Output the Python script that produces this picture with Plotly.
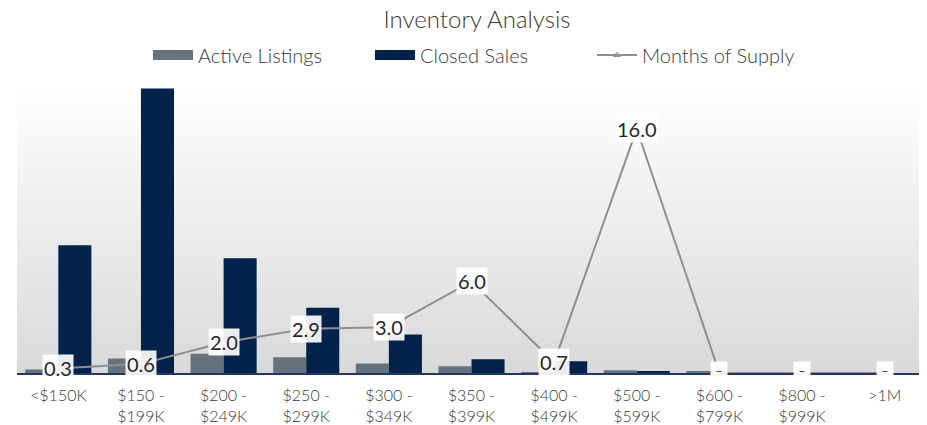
import plotly.graph_objects as go

categories = ["<$150K", "$150 -<br>$199K", "$200 -<br>$249K", "$250 -<br>$299K", "$300 -<br>$349K",
              "$350 -<br>$399K", "$400 -<br>$499K", "$500 -<br>$599K", "$600 -<br>$799K",
              "$800 -<br>$999K", ">1M"]
active_listings = [5, 21, 28, 23, 14, 10, 1, 4, 2, 1, 0]
closed_sales = [186, 414, 167, 95, 56, 20, 17, 3, 0, 0, 0]
months_supply = [0.3, 0.6, 2.0, 2.9, 3.0, 6.0, 0.7, 16.0, 0, 0, 0]

FONT = "Lato"
TXT = "#3a3a3a"
C_ACTIVE = "#66727c"
C_CLOSED = "#022249"
C_LINE = "#8f8f8f"

fig = go.Figure()
fig.add_trace(go.Bar(x=categories, y=active_listings, name="Active Listings", showlegend=False,
                     marker=dict(color=C_ACTIVE, line=dict(width=0))))
fig.add_trace(go.Bar(x=categories, y=closed_sales, name="Closed Sales", showlegend=False,
                     marker=dict(color=C_CLOSED, line=dict(width=0))))
fig.add_trace(go.Scatter(x=categories, y=months_supply, name="Months of Supply", yaxis="y2",
                         mode="lines+markers", showlegend=False,
                         line=dict(color=C_LINE, width=2),
                         marker=dict(symbol="triangle-up-open", size=6, color=C_LINE)))

# legend entries (rectangular swatches like the reference)
fig.add_trace(go.Scatter(x=[None], y=[None], name="Active Listings", mode="lines",
                         line=dict(color=C_ACTIVE, width=10)))
fig.add_trace(go.Scatter(x=[None], y=[None], name="Closed Sales", mode="lines",
                         line=dict(color=C_CLOSED, width=10)))
fig.add_trace(go.Scatter(x=[None], y=[None], name="Months of Supply", mode="lines+markers",
                         line=dict(color=C_LINE, width=2),
                         marker=dict(symbol="triangle-up-open", size=6, color=C_LINE)))

# data labels
annotations = []
for c, v in zip(categories, months_supply):
    if v == 0:
        annotations.append(dict(x=c, y=v, xref="x", yref="y2", text="<b>–</b>", showarrow=False,
                                yanchor="bottom", yshift=-7, width=14,
                                font=dict(family=FONT, size=12, color="#404040"),
                                bgcolor="rgba(255,255,255,0.95)", borderpad=1))
    else:
        annotations.append(dict(x=c, y=v, xref="x", yref="y2", text=f"{v:.1f}", showarrow=False,
                                font=dict(family=FONT, size=20, color="#262626"),
                                bgcolor="rgba(255,255,255,0.92)", borderpad=1))

# vertical gradient background for plot area
shapes = []
N = 60
top = (255, 255, 255)
bot = (217, 217, 217)
for i in range(N):
    t = (i + 0.5) / N
    col = tuple(round(top[k] + (bot[k] - top[k]) * t) for k in range(3))
    shapes.append(dict(type="rect", xref="paper", yref="paper", x0=0, x1=1,
                       y0=1 - (i + 1) / N, y1=1 - i / N + 0.002, layer="below",
                       line=dict(width=0), fillcolor="rgb(%d,%d,%d)" % col))

# the page body adds an 8px margin, so the figure is sized/offset to fill the 927x425 view
W, H = 919, 417
fig.update_layout(
    width=W, height=H,
    margin=dict(l=9, r=1, t=79, b=52, autoexpand=False),
    paper_bgcolor="white", plot_bgcolor="white",
    barmode="group", bargap=0.2, bargroupgap=0,
    title=dict(text="Inventory Analysis", x=(477 - 8) / W, xanchor="center", xref="container",
               y=1 - 3 / H, yanchor="top", yref="container", pad=dict(t=0),
               font=dict(family=FONT, size=24, color=TXT, weight=300)),
    legend=dict(orientation="h", x=(148 - 8 - 9) / 909, xanchor="left", y=1 + 32 / 286, yanchor="middle",
                font=dict(family=FONT, size=20, color=TXT, weight=300), itemwidth=40,
                entrywidth=167, entrywidthmode="pixels",
                bgcolor="rgba(0,0,0,0)", traceorder="normal"),
    xaxis=dict(showgrid=False, showline=True, linecolor="#1f3864", linewidth=1.5,
               range=[-0.5, len(categories) - 0.5], autorange=False,
               ticks="", automargin=False, ticklabelstandoff=7,
               tickfont=dict(family=FONT, size=16, color=TXT, weight=300)),
    yaxis=dict(range=[0, 416], visible=False, showgrid=False, automargin=False),
    yaxis2=dict(range=[0, 18.75], overlaying="y", visible=False, showgrid=False, automargin=False),
    annotations=annotations,
    shapes=shapes,
    showlegend=True,
)

fig.write_html("out.html")
